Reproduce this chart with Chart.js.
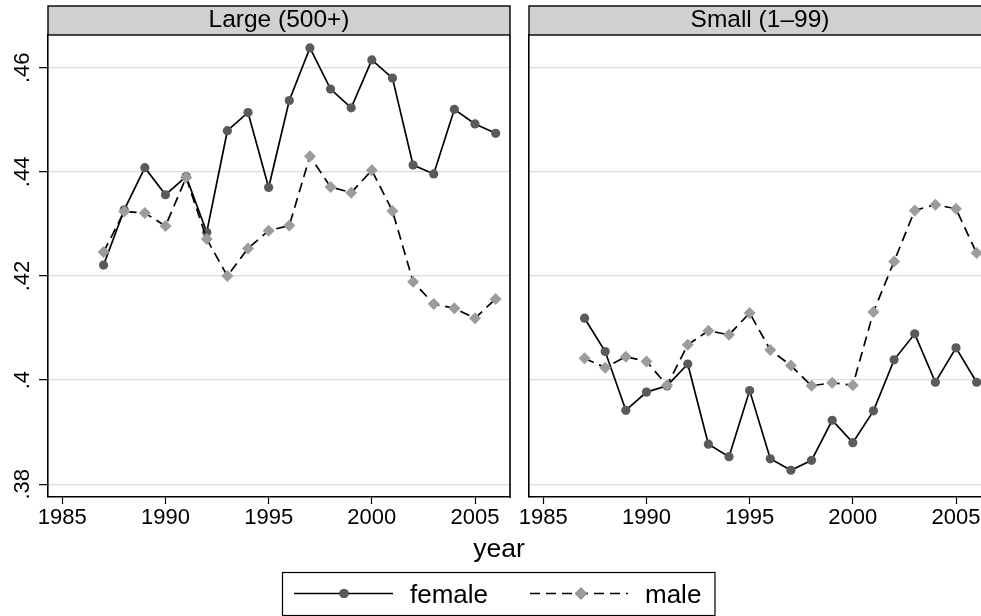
<!DOCTYPE html>
<html>
<head>
<meta charset="utf-8">
<script src="https://cdn.jsdelivr.net/npm/chart.js@4/dist/chart.umd.min.js"></script>
<style>
  html, body { margin: 0; padding: 0; background: #ffffff; overflow: hidden; }
  #wrap { position: relative; width: 981px; height: 616px; overflow: hidden; background: #ffffff; }
  #wrap canvas { position: absolute; left: 0; top: 0; }
</style>
</head>
<body>
<div id="wrap">
  <canvas id="c1" width="981" height="616"></canvas>
  <canvas id="c2" width="1000" height="616"></canvas>
</div>
<script>
// ---------- data ----------
const years = [1987,1988,1989,1990,1991,1992,1993,1994,1995,1996,1997,1998,1999,2000,2001,2002,2003,2004,2005,2006];
const panelTitles = ["Large (500+)", "Small (1\u201399)"];
const seriesNames = ["female", "male"];
const largeFemale = [0.4221,0.4327,0.4408,0.4356,0.4391,0.4284,0.4479,0.4514,0.4370,0.4537,0.4638,0.4559,0.4523,0.4615,0.4580,0.4413,0.4396,0.4520,0.4492,0.4474];
const largeMale   = [0.4246,0.4324,0.4321,0.4296,0.4389,0.4271,0.4200,0.4253,0.4287,0.4297,0.4430,0.4371,0.4360,0.4403,0.4325,0.4189,0.4146,0.4138,0.4119,0.4156];
const smallFemale = [0.4119,0.4055,0.3942,0.3977,0.3989,0.4031,0.3877,0.3853,0.3980,0.3849,0.3827,0.3846,0.3923,0.3880,0.3941,0.4039,0.4089,0.3996,0.4062,0.3996];
const smallMale   = [0.4042,0.4024,0.4045,0.4036,0.3990,0.4068,0.4095,0.4087,0.4129,0.4058,0.4028,0.3989,0.3995,0.3990,0.4131,0.4228,0.4326,0.4337,0.4329,0.4244];
const xTicks = [1985,1990,1995,2000,2005];
const yTicks = [0.38,0.40,0.42,0.44,0.46];
const yTickLabels = [".38",".4",".42",".44",".46"];
const xTitle = "year";

// ---------- style ----------
const FONT = "'Liberation Sans', Arial, Helvetica, sans-serif";
const X_MIN = 1984.307, X_MAX = 2006.696;
const Y_MIN = 0.37756, Y_MAX = 0.46628;
const FEMALE_STYLE = { borderColor: '#000000', borderWidth: 1.7, pointStyle: 'circle', pointRadius: 4.6, pointBackgroundColor: '#5a5a5a', pointBorderColor: '#5a5a5a', pointBorderWidth: 0, borderDash: [] };
const MALE_STYLE   = { borderColor: '#000000', borderWidth: 1.7, pointStyle: 'rectRot', pointRadius: 6, pointBackgroundColor: '#9c9c9c', pointBorderColor: '#9c9c9c', pointBorderWidth: 0, borderDash: [10, 6] };

function toXY(vals) { return years.map((yr, i) => ({ x: yr, y: vals[i] })); }

function datasets(fem, mal) {
  return [
    Object.assign({ label: seriesNames[0], data: toXY(fem), order: 1, tension: 0, fill: false }, FEMALE_STYLE),
    Object.assign({ label: seriesNames[1], data: toXY(mal), order: 0, tension: 0, fill: false }, MALE_STYLE)
  ];
}

const framePlugin = {
  id: 'frame',
  afterDraw(chart, args, opts) {
    const ctx = chart.ctx;
    const a = chart.chartArea;
    ctx.save();
    // strip
    ctx.fillStyle = '#d0d0d0';
    ctx.fillRect(a.left, 6, a.right - a.left, 29);
    ctx.strokeStyle = '#000000';
    ctx.lineWidth = 1.4;
    ctx.strokeRect(a.left, 6, a.right - a.left, 29);
    ctx.fillStyle = '#000000';
    ctx.font = '24.5px ' + FONT;
    ctx.textAlign = 'center';
    ctx.textBaseline = 'alphabetic';
    ctx.fillText(opts.title, (a.left + a.right) / 2, 26.5);
    // right border
    ctx.lineWidth = 1.6;
    ctx.beginPath();
    ctx.moveTo(a.right, a.top);
    ctx.lineTo(a.right, a.bottom + 0.8);
    ctx.stroke();

    if (opts.main) {
      // y tick labels, rotated
      const ys = chart.scales.y;
      ctx.font = '22px ' + FONT;
      ctx.textAlign = 'center';
      ctx.textBaseline = 'alphabetic';
      ys.ticks.forEach((t, i) => {
        const py = ys.getPixelForValue(t.value);
        ctx.save();
        ctx.translate(28.5, py);
        ctx.rotate(-Math.PI / 2);
        ctx.fillText(yTickLabels[i], 0, 0);
        ctx.restore();
      });
      // x title
      ctx.font = '26.5px ' + FONT;
      ctx.fillText(xTitle, 499, 557);
      // legend box
      ctx.lineWidth = 1.2;
      ctx.strokeRect(282.5, 572.5, 432.5, 43);
      const ly = 593.5;
      const dsets = chart.data.datasets;
      const items = [
        { ds: dsets[0], x1: 294, x2: 393, mx: 344, tx: 410 },
        { ds: dsets[1], x1: 530, x2: 628, mx: 581, tx: 645 }
      ];
      items.forEach(it => {
        ctx.save();
        ctx.strokeStyle = it.ds.borderColor;
        ctx.lineWidth = it.ds.borderWidth;
        ctx.setLineDash(it.ds.borderDash || []);
        ctx.beginPath();
        ctx.moveTo(it.x1, ly);
        ctx.lineTo(it.x2, ly);
        ctx.stroke();
        ctx.setLineDash([]);
        Chart.helpers.drawPoint(ctx, {
          pointStyle: it.ds.pointStyle,
          radius: it.ds.pointRadius,
          rotation: 0,
          borderWidth: 0
        }, it.mx, ly);
        ctx.fillStyle = it.ds.pointBackgroundColor;
        ctx.fill();
        ctx.restore();
        ctx.fillStyle = '#000000';
        ctx.font = '26px ' + FONT;
        ctx.textAlign = 'left';
        ctx.textBaseline = 'alphabetic';
        ctx.fillText(it.ds.label, it.tx, 602.5);
      });
    }
    ctx.restore();
  }
};

function makeChart(id, fem, mal, title, main, padLeft, padRight) {
  return new Chart(document.getElementById(id), {
    type: 'line',
    data: { datasets: datasets(fem, mal) },
    plugins: [framePlugin],
    options: {
      responsive: false,
      animation: false,
      devicePixelRatio: 1,
      layout: { padding: { left: padLeft, right: padRight, top: 35, bottom: 0 } },
      plugins: {
        legend: { display: false },
        tooltip: { enabled: false },
        frame: { title: title, main: main }
      },
      scales: {
        x: {
          type: 'linear',
          min: X_MIN, max: X_MAX,
          afterBuildTicks: s => { s.ticks = xTicks.map(v => ({ value: v })); },
          afterFit: s => { s.height = 119; },
          ticks: {
            color: '#000000',
            font: { family: FONT, size: 22 },
            padding: 1,
            maxRotation: 0, minRotation: 0,
            autoSkip: false,
            callback: v => String(v)
          },
          grid: { display: true, drawOnChartArea: false, drawTicks: true, tickLength: 7, tickColor: '#000000', tickWidth: 1.2 },
          border: { display: true, color: '#000000', width: 1.6 }
        },
        y: {
          type: 'linear',
          min: Y_MIN, max: Y_MAX,
          afterBuildTicks: s => { s.ticks = yTicks.map(v => ({ value: v })); },
          afterFit: s => { s.width = main ? 48 : 0; },
          ticks: { display: false },
          grid: {
            display: true,
            color: '#dcdcdc',
            lineWidth: 1.3,
            drawTicks: main,
            tickLength: 9,
            tickColor: '#000000',
            tickWidth: 1.2
          },
          border: { display: true, color: '#000000', width: 1.6 }
        }
      }
    }
  });
}

makeChart('c1', largeFemale, largeMale, panelTitles[0], true, 0, 981 - 510);
makeChart('c2', smallFemale, smallMale, panelTitles[1], false, 529, 1000 - 991);
</script>
</body>
</html>
